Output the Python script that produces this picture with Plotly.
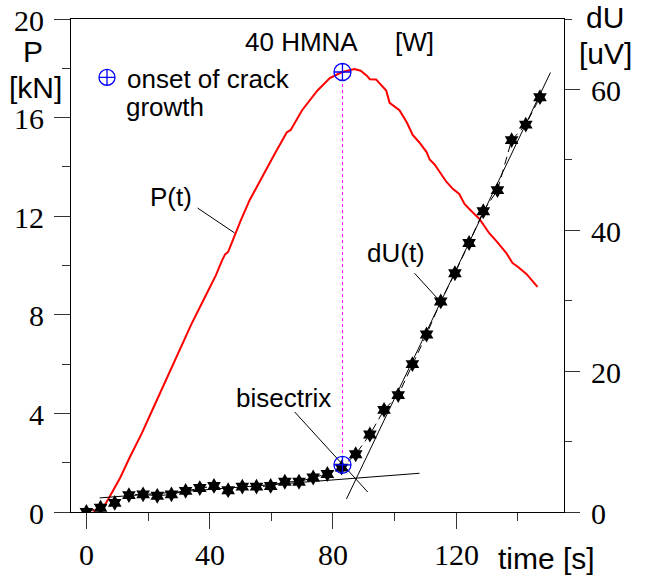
import plotly.graph_objects as go

# ---------------- data ----------------
# Load P(t) curve (red), left axis [kN]
t_P = [2, 5, 7, 9, 11, 14, 18, 22, 26, 30, 34, 38, 42, 44, 45, 46, 48, 50, 53, 57, 61, 65,
       66.3, 70, 75, 79, 83, 87, 89, 91, 92, 94, 95.2, 97.3, 98.4, 101.6, 104, 105.9, 108,
       110.4, 111.4, 113, 116.8, 119, 121, 122.7, 125, 127.5, 130.8, 133, 136.3, 138.3,
       140, 142.8, 146.4]
P_kN = [0.05, 0.1, 0.5, 0.95, 1.4, 2.2, 3.2, 4.3, 5.4, 6.5, 7.6, 8.6, 9.6, 10.2, 10.45,
        10.55, 11.2, 11.8, 12.66, 13.6, 14.5, 15.4, 15.5, 16.3, 17.1, 17.6, 17.85, 17.97,
        17.9, 17.7, 17.56, 17.55, 17.4, 17.1, 16.6, 16.3, 15.8, 15.3, 15.0, 14.6, 14.3,
        14.1, 13.4, 13.1, 12.9, 12.5, 12.2, 11.9, 11.3, 11.0, 10.5, 10.1, 9.95, 9.66, 9.13]

# dU(t) measurement points (stars), right axis [uV]
t_U = [0, 4.6, 9.2, 13.8, 18.4, 23.0, 27.6, 32.2, 36.8, 41.4, 46.0, 50.6, 55.2, 59.8,
       64.4, 69.0, 73.6, 78.2, 82.8, 87.4, 92.0, 96.6, 101.2, 105.8, 110.4, 115.0, 119.6,
       124.2, 128.8, 133.4, 138.0, 142.6, 147.2]
dU_uV = [0, 0.6, 1.3, 2.4, 2.5, 2.3, 2.5, 3.0, 3.4, 3.7, 3.1, 3.6, 3.6, 3.7, 4.3, 4.3,
         4.9, 5.4, 6.3, 8.2, 11.0, 14.5, 16.6, 21.0, 25.2, 29.9, 33.9, 38.2, 42.7, 45.7,
         52.8, 55.0, 58.9]

# construction lines (right axis)
flat_t = [4.3, 108.1]
flat_U = [2.0, 5.5]
steep_t = [84.4, 150.6]
steep_U = [1.85, 62.4]
bisect_t = [67.6, 91.3]
bisect_U = [14.2, 2.84]

# onset of crack growth
onset_t = 83.1
onset_P = 17.85
onset_U = 6.7

# leader lines for labels
lead_P_t = [36.1, 48.1]
lead_P_y = [12.33, 11.32]
lead_U_t = [106.5, 114.6]
lead_U_y = [33.9, 30.0]

# axis ranges / ticks
x_range = [-5, 155]
P_range = [0, 20]
U_range = [0, 70]
x_ticks = [0, 40, 80, 120]
P_ticks = [0, 4, 8, 12, 16, 20]
U_ticks = [0, 20, 40, 60]

SANS = "Liberation Sans"
SERIF = "Liberation Serif"
ZW = "\u200b"

fig = go.Figure()

# construction lines
for xs, ys in [(flat_t, flat_U), (steep_t, steep_U), (bisect_t, bisect_U), (lead_U_t, lead_U_y)]:
    fig.add_trace(go.Scatter(x=xs, y=ys, yaxis="y2", mode="lines",
                             line=dict(color="black", width=1), showlegend=False,
                             hoverinfo="skip"))

fig.add_trace(go.Scatter(x=lead_P_t, y=lead_P_y, mode="lines",
                         line=dict(color="black", width=1), showlegend=False))

# vertical magenta dotted line between the two onset markers
scale = (P_range[1] - P_range[0]) / (U_range[1] - U_range[0])
fig.add_trace(go.Scatter(x=[onset_t, onset_t], y=[onset_P, onset_U * scale], mode="lines",
                         line=dict(color="#ff00ff", width=1, dash="dot"), showlegend=False))

# P(t)
fig.add_trace(go.Scatter(x=t_P, y=P_kN, mode="lines",
                         line=dict(color="#ff0000", width=2), showlegend=False))

# dU(t)
fig.add_trace(go.Scatter(x=t_U, y=dU_uV, yaxis="y2", mode="lines+markers",
                         line=dict(color="black", width=1, dash="8px,5px"),
                         marker=dict(symbol="hexagram", size=12, color="black"),
                         showlegend=False))

# onset markers
fig.add_trace(go.Scatter(x=[onset_t], y=[onset_P], mode="markers",
                         marker=dict(symbol="circle-cross-open", size=17,
                                     line=dict(color="#0000ff", width=1.3), color="#0000ff"),
                         name="onset of crack", showlegend=True))
fig.add_trace(go.Scatter(x=[onset_t], y=[onset_U], yaxis="y2", mode="markers",
                         marker=dict(symbol="circle-cross-open", size=17,
                                     line=dict(color="#0000ff", width=1.3), color="#0000ff"),
                         showlegend=False))

W, H = 650, 576
L, R, T, B = 71, 564, 19, 512


def px(x):
    return (x - L) / (R - L)


def py(y):
    return (B - y) / (B - T)


annots = [
    ("P", 33, 52, 30), ("[kN]", 35, 87, 30),
    ("dU", 605, 18, 30), ("[uV]", 605, 54, 30),
    ("time [s]", 546, 558, 30),
    ("40 HMNA", 301, 42, 26), ("[W]", 414, 42, 26),
    ("growth", 165, 107, 26),
    ("P(t)", 171, 197, 26), ("dU(t)", 396, 253, 26), ("bisectrix", 283, 398, 26),
]
annotations = []
for txt, x, y, s in annots:
    annotations.append(dict(text=txt, x=px(x), y=py(y), xref="paper", yref="paper",
                            xanchor="center", yanchor="middle", showarrow=False,
                            font=dict(family=SANS, size=s, color="black")))

# serif tick labels drawn as text at the tick values
for v in x_ticks:
    annotations.append(dict(text=ZW + str(v) + ZW, x=v, y=py(554), xref="x", yref="paper",
                            xanchor="center", yanchor="middle", showarrow=False,
                            font=dict(family=SERIF, size=30, color="black")))
for v in P_ticks:
    annotations.append(dict(text=ZW + str(v), x=px(46), y=v, xref="paper", yref="y",
                            xanchor="right", yanchor="middle", showarrow=False,
                            yshift=-1, font=dict(family=SERIF, size=30, color="black")))
for v in U_ticks:
    annotations.append(dict(text=str(v) + ZW, x=px(589), y=v, xref="paper", yref="y2",
                            xanchor="left", yanchor="middle", showarrow=False,
                            yshift=-1, font=dict(family=SERIF, size=30, color="black")))


def axis_common():
    return dict(showgrid=False, zeroline=False, showline=True, linecolor="black",
                linewidth=1, ticks="outside", tickcolor="#333", tickwidth=1,
                automargin=False, showticklabels=False)


fig.update_layout(
    width=W, height=H,
    margin=dict(l=L, r=W - R, t=T, b=H - B, pad=0, autoexpand=False),
    paper_bgcolor="white", plot_bgcolor="white",
    font=dict(family=SANS, color="black"),
    xaxis=dict(range=x_range, tickmode="array", tickvals=x_ticks, ticklen=16, mirror=True,
               minor=dict(tick0=0, dtick=20, ticklen=8, ticks="outside", tickcolor="#333"),
               **axis_common()),
    yaxis=dict(range=P_range, tickmode="array", tickvals=P_ticks, ticklen=16,
               minor=dict(tick0=0, dtick=2, ticklen=8, ticks="outside", tickcolor="#333"),
               **axis_common()),
    yaxis2=dict(range=U_range, tickmode="array", tickvals=U_ticks, ticklen=15,
                overlaying="y", side="right", anchor="x",
                minor=dict(tick0=0, dtick=10, ticklen=7, ticks="outside", tickcolor="#333"),
                **axis_common()),
    legend=dict(x=px(87), y=py(54), xanchor="left", yanchor="top", valign="top",
                font=dict(family=SANS, size=26, color="black"),
                bgcolor="rgba(0,0,0,0)", borderwidth=0),
    annotations=annotations,
)

fig.write_html("out.html")
